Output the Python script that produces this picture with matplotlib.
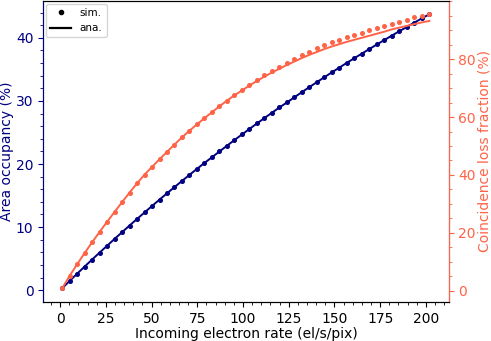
import matplotlib
matplotlib.use('Agg')
import matplotlib.pyplot as plt
from matplotlib.lines import Line2D

# ── Data ──────────────────────────────────────────────────────────────────────
rate = [1.0, 5.1, 9.2, 13.3, 17.4, 21.5, 25.6, 29.7, 33.8, 37.9,
        42.0, 46.1, 50.2, 54.3, 58.4, 62.5, 66.6, 70.7, 74.8, 78.9,
        83.0, 87.1, 91.2, 95.3, 99.4, 103.5, 107.6, 111.7, 115.8, 119.9,
        124.0, 128.1, 132.2, 136.3, 140.4, 144.5, 148.6, 152.7, 156.8, 160.9,
        165.0, 169.1, 173.2, 177.3, 181.4, 185.5, 189.6, 193.7, 197.8, 201.9]

occ_sim = [0.28, 1.44, 2.59, 3.72, 4.84, 5.94, 7.03, 8.11, 9.18, 10.24,
           11.28, 12.31, 13.34, 14.35, 15.35, 16.34, 17.31, 18.28, 19.23, 20.17,
           21.07, 21.99, 22.90, 23.80, 24.68, 25.56, 26.43, 27.29, 28.13, 28.97,
           29.76, 30.59, 31.40, 32.20, 32.99, 33.77, 34.54, 35.30, 36.05, 36.79,
           37.51, 38.24, 38.96, 39.67, 40.37, 41.06, 41.75, 42.43, 43.10, 43.76]
occ_ana = occ_sim

loss_sim = [0.8, 5.1, 9.1, 13.0, 16.7, 20.3, 23.8, 27.2, 30.6, 33.9,
            37.1, 40.1, 42.8, 45.4, 48.0, 50.5, 53.0, 55.3, 57.5, 59.6,
            61.7, 63.7, 65.7, 67.6, 69.4, 71.2, 72.9, 74.5, 76.0, 77.4,
            78.8, 80.1, 81.4, 82.6, 83.7, 84.8, 85.8, 86.7, 87.6, 88.4,
            89.2, 90.0, 90.8, 91.6, 92.3, 93.0, 93.7, 94.4, 95.0, 95.6]
loss_ana = [0.8, 5.1, 9.1, 13.0, 16.7, 20.3, 23.8, 27.2, 30.6, 33.9,
            37.1, 40.1, 42.8, 45.4, 48.0, 50.5, 53.0, 55.3, 57.5, 59.6,
            61.7, 63.7, 65.7, 67.5, 69.2, 70.9, 72.5, 74.0, 75.4, 76.7,
            78.0, 79.2, 80.4, 81.5, 82.5, 83.5, 84.4, 85.2, 86.0, 86.7,
            87.4, 88.1, 88.8, 89.5, 90.3, 90.9, 91.5, 92.1, 92.7, 93.2]

C_OCC = '#000080'
C_LOSS = '#ff6347'

# ── Plot ──────────────────────────────────────────────────────────────────────
plt.rcParams['font.size'] = 10
fig = plt.figure(figsize=(4.91, 3.41), dpi=100)
ax1 = fig.add_axes([0.088, 0.115, 0.826, 0.883])
ax2 = ax1.twinx()

ax1.plot(rate, occ_ana, '-', color=C_OCC, lw=1.4)
ax1.plot(rate, occ_sim, 'o', color=C_OCC, ms=2.6)
ax2.plot(rate, loss_ana, '-', color=C_LOSS, lw=1.4)
ax2.plot(rate, loss_sim, 'o', color=C_LOSS, ms=2.6)

ax1.set_xlim(-9.3, 212.5)
ax1.set_ylim(-1.85, 45.9)
ax2.set_ylim(-3.8, 100.2)
ax1.set_xticks([0, 25, 50, 75, 100, 125, 150, 175, 200])
ax1.set_yticks([0, 10, 20, 30, 40])
ax2.set_yticks([0, 20, 40, 60, 80])
ax1.minorticks_on()
ax2.minorticks_on()

ax1.set_xlabel('Incoming electron rate (el/s/pix)', fontsize=10, labelpad=1)
ax1.set_ylabel('Area occupancy (%)', color=C_OCC, fontsize=10, labelpad=1)
ax2.set_ylabel('Coincidence loss fraction (%)', color=C_LOSS, fontsize=10, labelpad=1)
ax1.tick_params(axis='y', which='both', colors=C_OCC, labelsize=10)
ax2.tick_params(axis='y', which='both', colors=C_LOSS, labelsize=10)
ax1.tick_params(axis='x', labelsize=10)
ax2.spines['left'].set_color(C_OCC)
ax2.spines['right'].set_color(C_LOSS)

handles = [Line2D([], [], ls='none', marker='.', color='k', label='sim.'),
           Line2D([], [], ls='-', color='k', lw=1.6, label='ana.')]
ax1.legend(handles=handles, loc='upper left', fontsize=7.5,
           borderaxespad=0.3, handlelength=2.0)

fig.savefig('out.png', dpi=100)
